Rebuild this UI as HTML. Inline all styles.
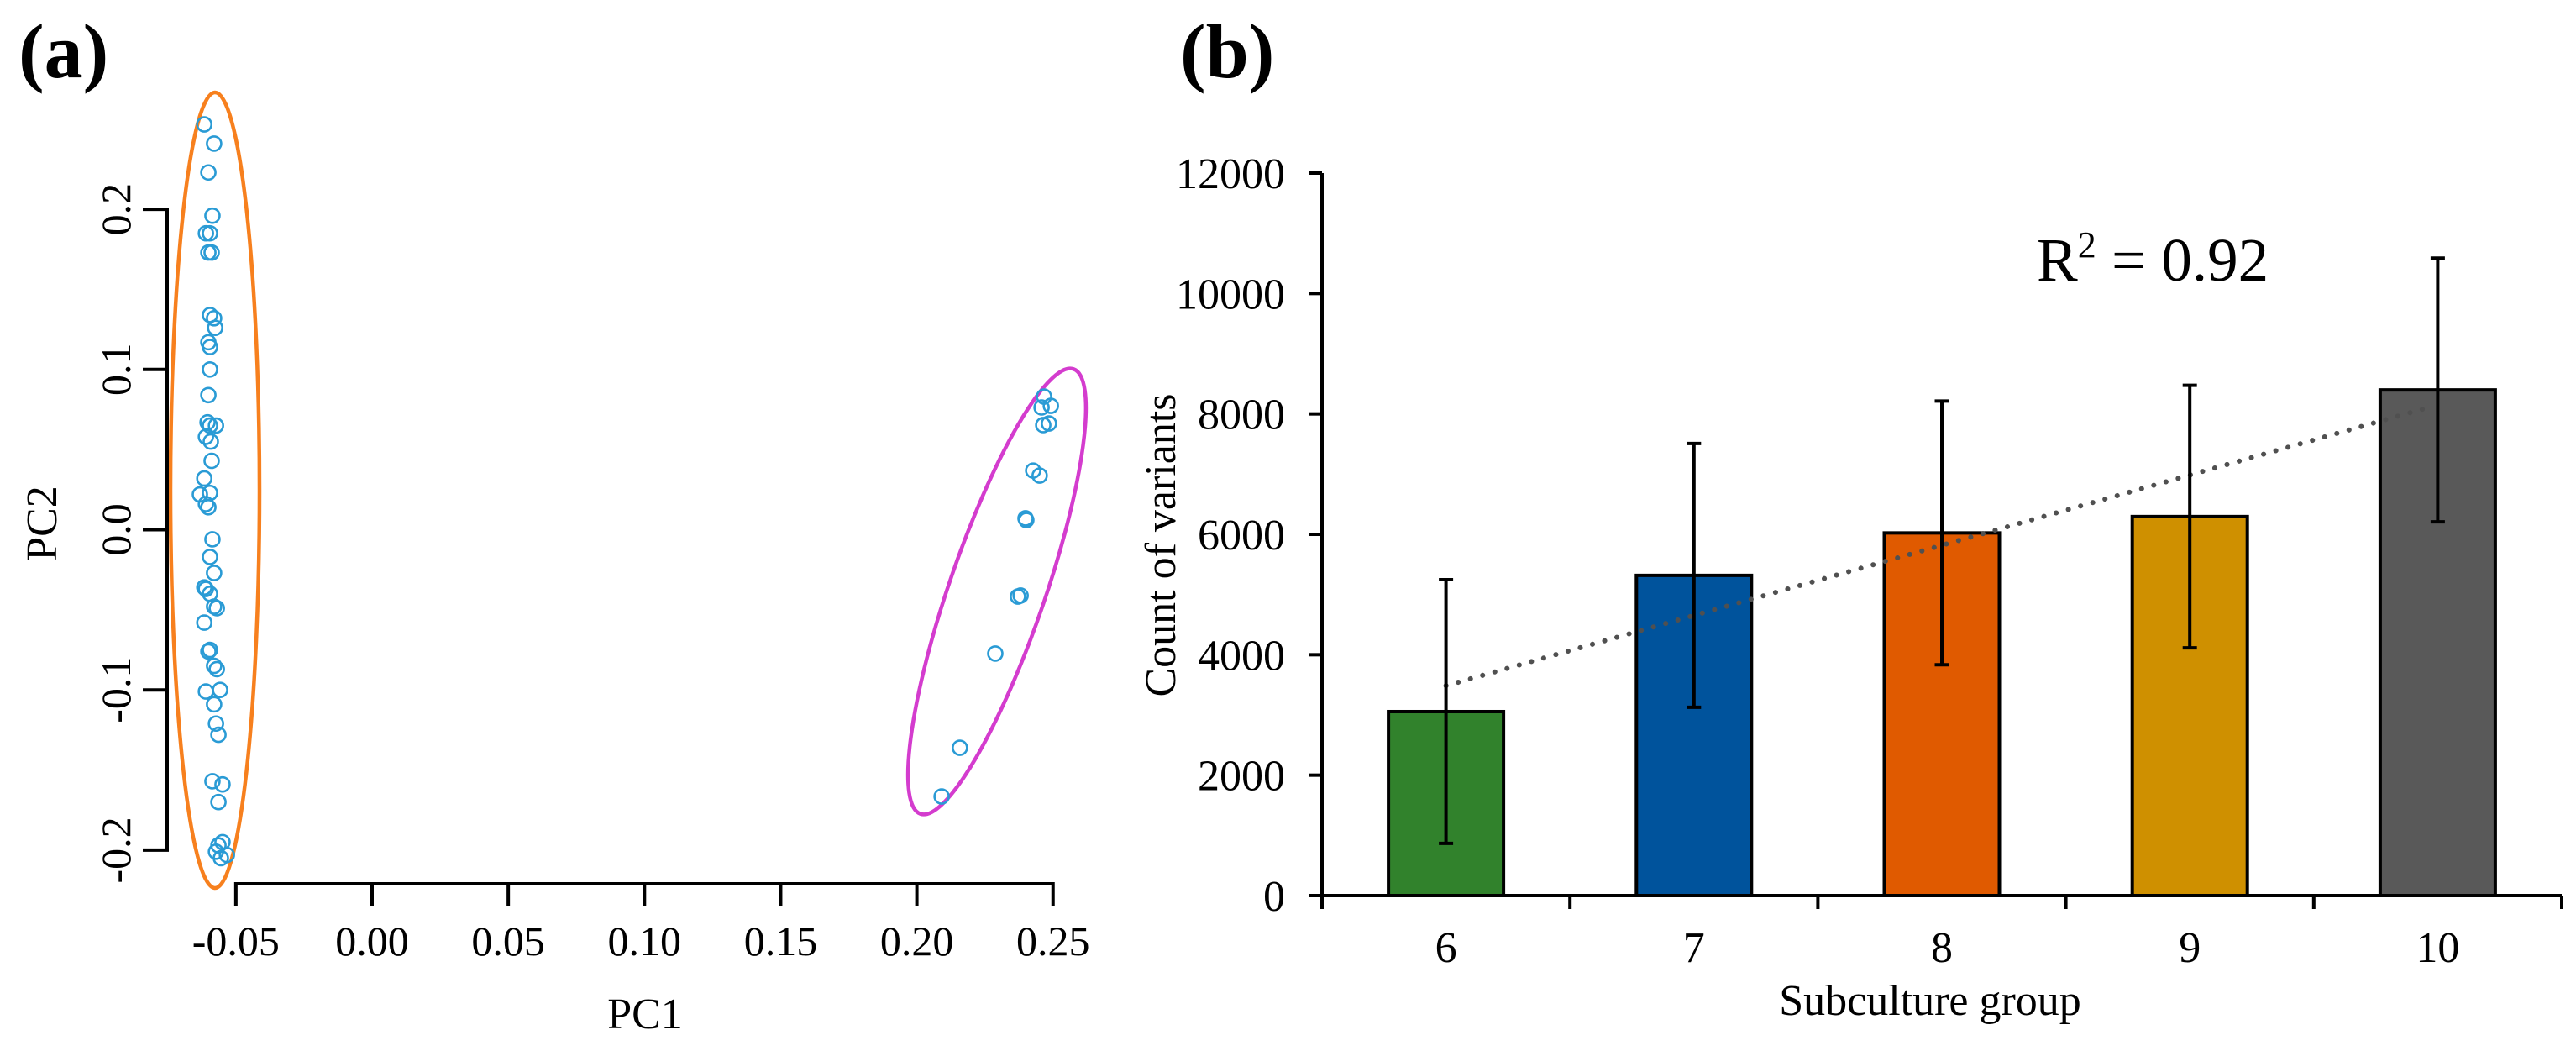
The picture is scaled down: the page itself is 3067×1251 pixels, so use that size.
<!DOCTYPE html>
<html><head><meta charset="utf-8">
<style>
html,body{margin:0;padding:0;background:#fff;}
svg{display:block;font-family:"Liberation Serif",serif;}
svg text, svg tspan{font-family:"Liberation Serif",serif;}
</style></head>
<body>
<svg id="fig" width="3067" height="1251" viewBox="0 0 3067 1251" xmlns="http://www.w3.org/2000/svg">
  <g id="pa"></g>
  <g id="pb"></g>
</svg>
<script>
// ---------- Panel (a) data ----------
const pcaXTicks = [-0.05, 0.00, 0.05, 0.10, 0.15, 0.20, 0.25];
const pcaYTicks = [-0.2, -0.1, 0.0, 0.1, 0.2];
const pcaXTickLabels = ["-0.05","0.00","0.05","0.10","0.15","0.20","0.25"];
const pcaYTickLabels = ["-0.2","-0.1","0.0","0.1","0.2"];
const groupAPC1 = [-0.0616,-0.0580,-0.0601,-0.0586,-0.0610,-0.0595,-0.0601,-0.0589,-0.0595,-0.0580,-0.0576,-0.0601,-0.0595,-0.0595,-0.0601,-0.0604,-0.0573,-0.0595,-0.0610,-0.0592,-0.0589,-0.0616,-0.0632,-0.0595,-0.0610,-0.0601,-0.0586,-0.0595,-0.0580,-0.0610,-0.0616,-0.0595,-0.0580,-0.0570,-0.0616,-0.0595,-0.0601,-0.0580,-0.0570,-0.0610,-0.0558,-0.0580,-0.0573,-0.0564,-0.0586,-0.0549,-0.0564,-0.0564,-0.0549,-0.0573,-0.0533,-0.0555];
const groupAPC2 = [0.253,0.241,0.223,0.196,0.185,0.185,0.173,0.173,0.134,0.132,0.126,0.117,0.114,0.100,0.084,0.067,0.065,0.065,0.058,0.055,0.043,0.032,0.022,0.023,0.016,0.014,-0.006,-0.017,-0.027,-0.037,-0.036,-0.040,-0.048,-0.049,-0.058,-0.075,-0.076,-0.085,-0.087,-0.101,-0.100,-0.109,-0.121,-0.128,-0.157,-0.159,-0.170,-0.197,-0.195,-0.201,-0.203,-0.205];
const groupBPC1 = [0.2467,0.2458,0.2492,0.2464,0.2485,0.2427,0.2451,0.2399,0.2402,0.2371,0.2381,0.2288,0.2158,0.2091];
const groupBPC2 = [0.0831,0.0763,0.0773,0.0653,0.0663,0.0369,0.0338,0.0071,0.0060,-0.0417,-0.0411,-0.0773,-0.1361,-0.1665];

// ---------- Panel (b) data ----------
const subcultureGroups = ["6","7","8","9","10"];
const groupNumbers = [6,7,8,9,10];
const variantCounts = [3056,5318,6023,6295,8398];
const variantErrors = [2190,2190,2190,2180,2190];
const barColors = ["#31822c","#00539c","#e05a00","#cf9000","#595959"];
const countTicks = [0,2000,4000,6000,8000,10000,12000];
const countTickLabels = ["0","2000","4000","6000","8000","10000","12000"];

const NS = "http://www.w3.org/2000/svg";
function mk(parent, tag, attrs, text){
  const e = document.createElementNS(NS, tag);
  for (const k in attrs) e.setAttribute(k, attrs[k]);
  if (text !== undefined) e.textContent = text;
  parent.appendChild(e);
  return e;
}
const fig = document.getElementById('fig');
const pa = document.getElementById('pa');
const pb = document.getElementById('pb');

// ---------- Panel (a) ----------
const ax = v => 443 + v * 3243;
const ay = v => 630.5 - v * 1907;

let t = mk(fig,'text',{x:22,y:92,'font-size':92,'font-weight':'bold'},'(a)');


t = mk(fig,'text',{x:1405,y:92,'font-size':92,'font-weight':'bold'},'(b)');



let el = mk(pa,'ellipse',{cx:256,cy:583.5,rx:53,ry:473.5,fill:'none',stroke:'#f7801e','stroke-width':4.5});


el = mk(pa,'ellipse',{cx:0,cy:0,rx:57,ry:280,fill:'none',stroke:'#d43cce','stroke-width':4.5,transform:'translate(1187,704) rotate(19)'});



let ln = mk(pa,'line',{x1:199,y1:ay(0.2),x2:199,y2:ay(-0.2),stroke:'#000','stroke-width':4});


pcaYTicks.forEach((v,i)=>{
  const tk = mk(pa,'line',{x1:170,y1:ay(v),x2:201,y2:ay(v),stroke:'#000','stroke-width':4});
  
  
  const lb = mk(pa,'text',{x:0,y:0,'font-size':50,'text-anchor':'middle',transform:`translate(155,${ay(v)}) rotate(-90)`},pcaYTickLabels[i]);
  
  
});
ln = mk(pa,'line',{x1:ax(-0.05),y1:1052,x2:ax(0.25),y2:1052,stroke:'#000','stroke-width':4});


pcaXTicks.forEach((v,i)=>{
  const tk = mk(pa,'line',{x1:ax(v),y1:1050,x2:ax(v),y2:1078,stroke:'#000','stroke-width':4});
  
  
  const lb = mk(pa,'text',{x:ax(v),y:1137,'font-size':50,'text-anchor':'middle'},pcaXTickLabels[i]);
  
  
});
t = mk(pa,'text',{x:768,y:1224,'font-size':52,'text-anchor':'middle'},'PC1');


t = mk(pa,'text',{x:0,y:0,'font-size':52,'text-anchor':'middle',transform:'translate(67,623) rotate(-90)'},'PC2');



groupAPC1.forEach((v,i)=>{
  const c = mk(pa,'circle',{cx:ax(v),cy:ay(groupAPC2[i]),r:8.5,fill:'none',stroke:'#2a9bd5','stroke-width':2.6});
  
  
});
groupBPC1.forEach((v,i)=>{
  const c = mk(pa,'circle',{cx:ax(v),cy:ay(groupBPC2[i]),r:8.5,fill:'none',stroke:'#2a9bd5','stroke-width':2.6});
  
  
});

// ---------- Panel (b) ----------
const bx0 = 1574, bx1 = 3050, yBase = 1066, yTop = 206;
const catW = (bx1 - bx0) / subcultureGroups.length;
const bxc = i => bx0 + catW * (i + 0.5);
const by = v => yBase - (v / 12000) * (yBase - yTop);

ln = mk(pb,'line',{x1:bx0,y1:yTop,x2:bx0,y2:yBase+2,stroke:'#000','stroke-width':4});


countTicks.forEach((v,i)=>{
  const tk = mk(pb,'line',{x1:bx0-16,y1:by(v),x2:bx0,y2:by(v),stroke:'#000','stroke-width':4});
  
  
  const lb = mk(pb,'text',{x:1530,y:by(v)+18,'font-size':52,'text-anchor':'end'},countTickLabels[i]);
  
  
});
t = mk(pb,'text',{x:0,y:0,'font-size':52,'text-anchor':'middle',transform:'translate(1399,649) rotate(-90)'},'Count of variants');



subcultureGroups.forEach((g,i)=>{
  const top = by(variantCounts[i]);
  const r = mk(pb,'rect',{x:bxc(i)-68.5,y:top,width:137,height:yBase-top,fill:barColors[i],stroke:'#000','stroke-width':4});
  
  
});
ln = mk(pb,'line',{x1:bx0-16,y1:yBase,x2:bx1,y2:yBase,stroke:'#000','stroke-width':4});


for (let i=0;i<=subcultureGroups.length;i++){
  const tk = mk(pb,'line',{x1:bx0+catW*i,y1:yBase,x2:bx0+catW*i,y2:yBase+16,stroke:'#000','stroke-width':4});
  
  
}
subcultureGroups.forEach((g,i)=>{
  const lb = mk(pb,'text',{x:bxc(i),y:1145,'font-size':52,'text-anchor':'middle'},g);
  
  
});
t = mk(pb,'text',{x:2298,y:1208,'font-size':52,'text-anchor':'middle'},'Subculture group');



const n = groupNumbers.length;
const mx = groupNumbers.reduce((a,b)=>a+b,0)/n;
const my = variantCounts.reduce((a,b)=>a+b,0)/n;
let sxy=0,sxx=0;
groupNumbers.forEach((x,i)=>{sxy+=(x-mx)*(variantCounts[i]-my);sxx+=(x-mx)*(x-mx);});
const slope = sxy/sxx, icpt = my - slope*mx;
const tl = mk(pb,'line',{x1:bxc(0),y1:by(slope*groupNumbers[0]+icpt),x2:bxc(n-1)-10,y2:by(slope*(groupNumbers[n-1]-10/catW)+icpt),stroke:'#505050','stroke-width':6,'stroke-linecap':'round','stroke-dasharray':'0.1 15'});



subcultureGroups.forEach((g,i)=>{
  const hi = by(variantCounts[i]+variantErrors[i]), lo = by(variantCounts[i]-variantErrors[i]);
  const x = bxc(i);
  const eg = mk(pb,'g',{stroke:'#000','stroke-width':4});
  
  
  mk(eg,'line',{x1:x,y1:hi,x2:x,y2:lo});
  mk(eg,'line',{x1:x-8.5,y1:hi,x2:x+8.5,y2:hi});
  mk(eg,'line',{x1:x-8.5,y1:lo,x2:x+8.5,y2:lo});
});

const r2 = mk(pb,'text',{x:2425,y:334,'font-size':73,'font-family':'Liberation Serif, serif',style:'font-family:"Liberation Serif",serif'});


mk(r2,'tspan',{style:'font-family:"Liberation Serif",serif'},'R');
mk(r2,'tspan',{'font-size':44,dy:-28,style:'font-family:"Liberation Serif",serif'},'2');
mk(r2,'tspan',{dy:28,style:'font-family:"Liberation Serif",serif'},' = 0.92');
</script>
</body></html>
